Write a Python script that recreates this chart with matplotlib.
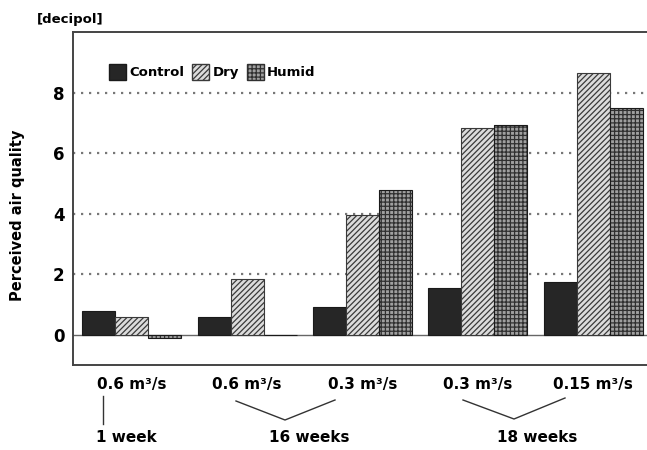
import matplotlib.pyplot as plt
import matplotlib.patches as mpatches
from matplotlib.lines import Line2D
import numpy as np

plt.rcParams['font.family'] = ['DejaVu Sans']
plt.rcParams['font.weight'] = 'bold'
plt.rcParams['hatch.linewidth'] = 0.9

flow_labels = ['0.6 m³/s', '0.6 m³/s', '0.3 m³/s', '0.3 m³/s', '0.15 m³/s']
control = [0.8, 0.6, 0.93, 1.56, 1.75]
dry = [0.6, 1.83, 3.95, 6.83, 8.65]
humid = [-0.1, 0.0, 4.77, 6.94, 7.48]

W, H = 647, 450
fig = plt.figure(figsize=(6.47, 4.5), dpi=100)
ax = fig.add_axes([73 / W, 1 - 365 / H, 580 / W, 333 / H])

x = np.arange(len(flow_labels))
bw = 0.286

ax.bar(x - bw, control, bw, color='#262626', edgecolor='#1a1a1a', linewidth=0.8, zorder=3)
ax.bar(x, dry, bw, color='#dcdcdc', edgecolor='#3a3a3a', hatch='//////', linewidth=0.8, zorder=3)
ax.bar(x + bw, humid, bw, color='#a0a0a0', edgecolor='#303030', hatch='++++', linewidth=0, zorder=3)
ax.bar(x + bw, humid, bw, fill=False, edgecolor='#1a1a1a', linewidth=0.8, zorder=4)

ax.set_xlim(-0.51, 4.52)
ax.set_ylim(-1, 10)
ax.set_yticks([0, 2, 4, 6, 8])
ax.set_yticklabels(['0', '2', '4', '6', '8'], fontsize=12, fontweight='bold')
ax.set_xticks(x)
ax.set_xticklabels(flow_labels, fontsize=11, fontweight='bold')
ax.tick_params(axis='both', length=0)
ax.tick_params(axis='y', pad=6)
ax.tick_params(axis='x', pad=9)

for v in [2, 4, 6, 8]:
    ax.axhline(v, color='#777777', linestyle=(0, (1, 2.6)), linewidth=1.6, zorder=1)
ax.axhline(0, color='#666666', linewidth=1.0, zorder=2)

for s in ['left', 'top', 'bottom']:
    ax.spines[s].set_color('#444444')
    ax.spines[s].set_linewidth(1.4)
ax.spines['right'].set_visible(False)

ax.set_ylabel('Perceived air quality', fontsize=10.5, fontweight='bold')
ax.yaxis.set_label_coords(-0.083, 0.45)
fig.text(37 / W, 1 - 19 / H, '[decipol]', fontsize=9.5, fontweight='bold', va='center', ha='left')

handles = [
    mpatches.Patch(facecolor='#262626', edgecolor='#1a1a1a'),
    mpatches.Patch(facecolor='#dcdcdc', edgecolor='#3a3a3a', hatch='//////'),
    mpatches.Patch(facecolor='#a0a0a0', edgecolor='#303030', hatch='++++'),
]
ax.legend(handles, ['Control', 'Dry', 'Humid'], loc='upper left', bbox_to_anchor=(0.05, 0.925),
          ncol=3, frameon=False, handlelength=1.3, handleheight=1.5,
          handletextpad=0.25, columnspacing=0.6, borderpad=0, prop={'weight': 'bold', 'size': 9.5})

# duration annotations below the flow rates
def px(xp, yp):
    return xp / W, 1 - yp / H

fig.add_artist(Line2D(*zip(px(103, 396), px(103, 424)), color='#333333', linewidth=1))
fig.add_artist(Line2D(*zip(px(236, 401), px(285, 420), px(335, 400)), color='#333333', linewidth=1))
fig.add_artist(Line2D(*zip(px(463, 400), px(514, 419), px(565, 398)), color='#333333', linewidth=1))
for xp, label in [(126, '1 week'), (309, '16 weeks'), (537, '18 weeks')]:
    fig.text(*px(xp, 438), label, fontsize=11, fontweight='bold', ha='center', va='center')

fig.savefig('out.png', dpi=100)
